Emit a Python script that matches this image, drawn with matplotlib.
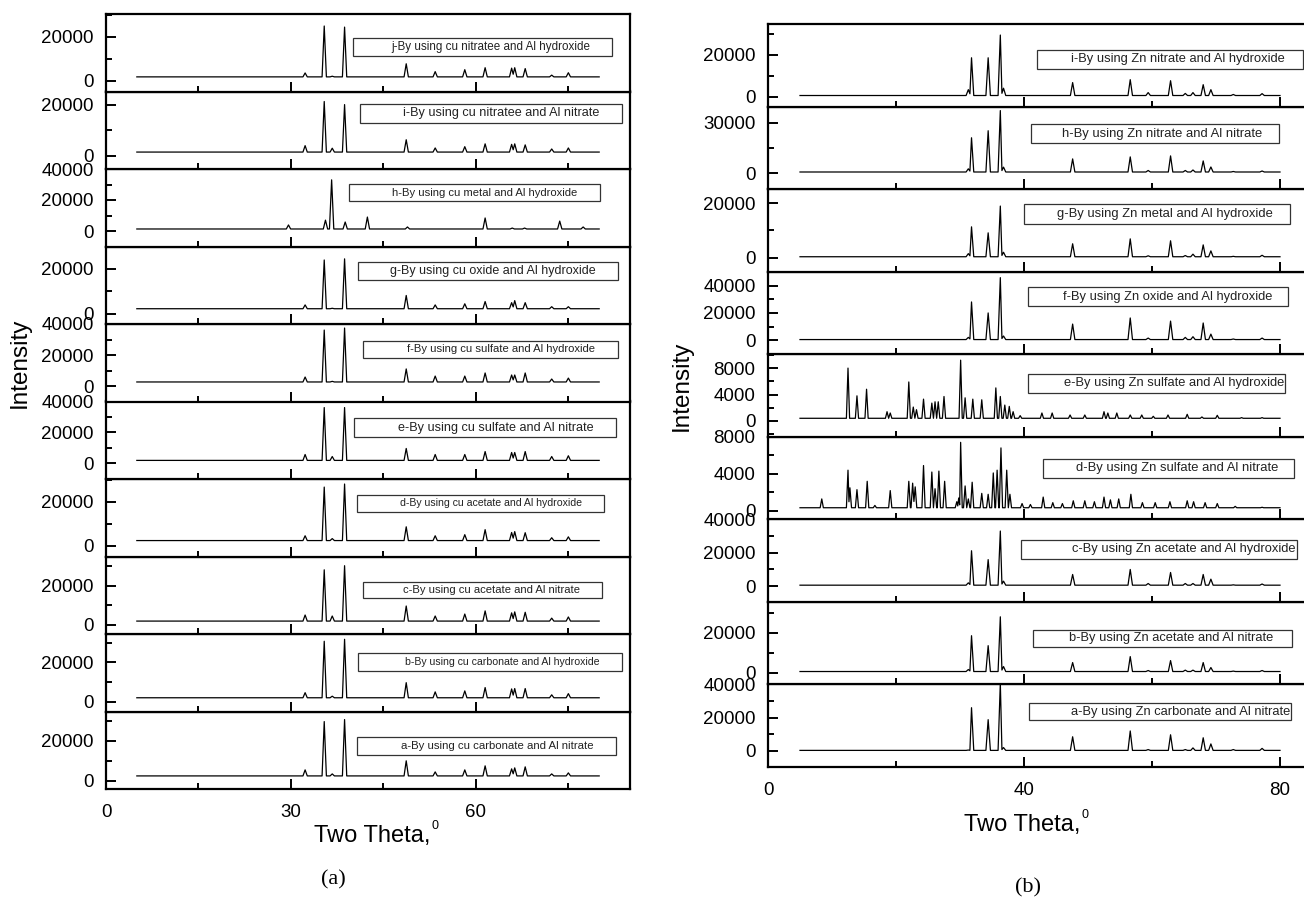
import matplotlib.pyplot as plt
from matplotlib.patches import Rectangle
from matplotlib.ticker import MultipleLocator

plt.rcParams['font.family'] = ['Liberation Sans', 'DejaVu Sans']

# ---------------- (a) Cu series, peak positions / heights
cu_pos = [32.3, 35.4, 36.7, 38.7, 48.7, 53.4, 58.2, 61.5, 65.8, 66.3, 68.0, 72.3, 75.0]
cu_a = [5500, 29500, 3500, 30500, 10000, 4500, 5500, 7500, 6000, 6500, 7000, 3500, 4000]
cu_b = [4600, 30800, 2800, 31800, 9700, 5000, 5500, 7200, 6500, 6700, 6700, 3500, 4100]
cu_c = [5100, 28200, 4600, 30300, 9700, 4600, 5600, 7200, 6200, 6700, 6500, 3500, 4100]
cu_d = [4500, 26800, 3200, 28200, 8600, 4500, 5000, 7300, 6000, 6400, 5900, 3600, 4000]
cu_e = [5800, 36100, 4500, 36100, 9700, 5800, 5800, 7700, 7100, 7100, 7700, 4500, 5000]
cu_f = [5800, 36100, 3000, 37400, 11000, 6400, 6400, 8400, 7100, 7100, 8400, 4500, 5100]
cu_g = [4000, 24000, 2500, 24500, 8200, 4000, 4500, 5500, 5000, 5900, 5000, 3200, 3200]
cu_i = [4000, 21200, 3000, 20000, 6300, 3100, 3600, 4700, 4500, 4700, 4300, 2700, 3100]
cu_j = [3500, 25000, 2000, 24500, 7700, 4100, 5000, 5900, 5700, 5900, 5500, 2500, 3600]
# cu metal sample (h) has its own set of reflections
cuh_pos = [29.6, 35.6, 36.6, 38.8, 42.4, 48.9, 61.5, 65.9, 67.9, 73.6, 77.4]
cu_h = [3900, 7000, 33000, 5800, 9000, 2600, 8400, 1900, 1900, 6400, 2600]

cu_base = [2500, 2000, 2000, 2300, 2000, 2600, 2300, 1300, 1500, 1700]
cu_ylim = [(-4000, 34500), (-5000, 34500), (-4600, 35000), (-5000, 30500), (-10000, 40000),
           (-10000, 40000), (-4500, 30000), (-10000, 40000), (-5100, 25100), (-5000, 30500)]
cu_yticks = [[0, 20000], [0, 20000], [0, 20000], [0, 20000], [0, 20000, 40000],
             [0, 20000, 40000], [0, 20000], [0, 20000, 40000], [0, 20000], [0, 20000]]
cu_labels = ['a-By using cu carbonate and Al nitrate',
             'b-By using cu carbonate and Al hydroxide',
             'c-By using cu acetate and Al nitrate',
             'd-By using cu acetate and Al hydroxide',
             'e-By using cu sulfate and Al nitrate',
             'f-By using cu sulfate and Al hydroxide',
             'g-By using cu oxide and Al hydroxide',
             'h-By using cu metal and Al hydroxide',
             'i-By using cu nitratee and Al nitrate',
             'j-By using cu nitratee and Al hydroxide']

# ---------------- (b) Zn series
zn_pos = [31.3, 31.8, 34.4, 36.3, 36.8, 47.6, 56.6, 59.4, 62.9, 65.2, 66.4, 68.0, 69.2, 72.7, 77.2]
zn_a = [500, 26000, 18800, 41000, 2000, 8500, 12000, 800, 9700, 800, 1800, 7900, 4200, 800, 1500]
zn_b = [1500, 18500, 13500, 28000, 3000, 5000, 8000, 1000, 6000, 1200, 1200, 5000, 2500, 700, 1000]
zn_c = [2000, 21200, 15900, 33000, 3000, 7000, 10000, 1600, 8200, 1600, 1600, 7000, 4200, 800, 1300]
zn_f = [2000, 28100, 20000, 46000, 3000, 11800, 16300, 1500, 14000, 2000, 2500, 12600, 4400, 800, 1500]
zn_g = [1500, 11300, 9100, 18900, 2000, 5100, 6900, 700, 6200, 800, 1300, 4700, 2500, 500, 900]
zn_h = [2500, 21000, 25200, 37200, 3500, 8400, 9600, 1500, 10200, 1500, 1800, 7200, 3600, 900, 1200]
zn_i = [3300, 18600, 18600, 29500, 4000, 6700, 8100, 1900, 7600, 1500, 1900, 5700, 3300, 1000, 1400]
# zinc sulfate samples (d, e) are multiphase
znd_pos = [8.4, 12.5, 12.8, 13.9, 15.5, 16.7, 19.1, 22.0, 22.6, 23.0, 24.3, 25.6, 26.1, 26.7,
           27.6, 29.5, 29.8, 30.1, 30.8, 31.3, 31.9, 33.4, 34.4, 35.2, 35.8, 36.4, 37.3, 37.8,
           39.7, 41.0, 43.0, 44.5, 46.0, 47.7, 49.5, 51.0, 52.5, 53.5, 54.8, 56.7, 58.5, 60.5,
           62.8, 65.5, 66.5, 68.3, 70.2, 73.0, 77.2]
zn_d = [1300, 4400, 2500, 2300, 3200, 600, 2200, 3200, 3000, 2600, 4900, 4200, 2400, 4300,
        3200, 1000, 1400, 7400, 2700, 1300, 3100, 1900, 1800, 4100, 4400, 6800, 4400, 1800,
        800, 700, 1500, 900, 800, 1100, 1100, 1000, 1500, 1200, 1300, 1800, 900, 900,
        1000, 1100, 1000, 900, 800, 500, 400]
zne_pos = [12.5, 13.9, 15.4, 18.6, 19.1, 22.0, 22.7, 23.2, 24.3, 25.6, 26.1, 26.6, 27.5, 30.1,
           30.8, 32.0, 33.4, 35.6, 36.3, 37.0, 37.7, 38.3, 39.4, 42.8, 44.4, 47.2, 49.5, 52.5,
           53.1, 54.5, 56.6, 58.4, 60.2, 62.5, 65.5, 67.8, 70.2, 74.0, 77.2]
zn_e = [8000, 3800, 4800, 1400, 1200, 5900, 2100, 1700, 3300, 2700, 2900, 2900, 3700, 9200,
        3500, 3300, 3200, 5000, 3700, 2400, 2200, 1400, 800, 1200, 1200, 900, 900, 1400,
        1200, 1200, 900, 900, 700, 900, 1000, 600, 850, 500, 500]

zn_base = [300, 500, 600, 350, 400, 400, 360, 600, 500]
zn_ylim = [(-9700, 40000), (-6000, 35500), (-9400, 40000), (-900, 8000), (-2400, 10100),
           (-10400, 50400), (-5100, 25100), (-9600, 39600), (-4800, 34800)]
zn_yticks = [[0, 20000, 40000], [0, 20000], [0, 20000, 40000], [0, 4000, 8000], [0, 4000, 8000],
             [0, 20000, 40000], [0, 20000], [0, 30000], [0, 20000]]
zn_minor = [10000, 10000, 10000, 2000, 2000, 10000, 10000, 15000, 10000]
zn_labels = ['a-By using Zn carbonate and Al nitrate',
             'b-By using Zn acetate and Al nitrate',
             'c-By using Zn acetate and Al hydroxide',
             'd-By using Zn sulfate and Al nitrate',
             'e-By using Zn sulfate and Al hydroxide',
             'f-By using Zn oxide and Al hydroxide',
             'g-By using Zn metal and Al hydroxide',
             'h-By using Zn nitrate and Al nitrate',
             'i-By using Zn nitrate and Al hydroxide']

# label boxes: x0, x1 (data), y0, y1 (axes fraction), text width px, gap to right edge
cu_box = [(40.7, 82.7, 0.439, 0.671, 194), (40.9, 83.7, 0.523, 0.755, 197),
          (41.7, 80.5, 0.465, 0.671, 179), (40.7, 80.8, 0.574, 0.794, 183),
          (40.2, 82.7, 0.542, 0.787, 197), (41.7, 83.0, 0.561, 0.781, 190),
          (40.9, 83.0, 0.568, 0.800, 207), (39.4, 80.1, 0.587, 0.806, 188),
          (41.2, 83.7, 0.594, 0.839, 197), (40.1, 82.1, 0.458, 0.690, 200)]
zn_box = [(40.8, 81.7, 0.569, 0.775, 222, 0.15), (41.4, 81.9, 0.454, 0.660, 207, 3.0),
          (39.5, 82.7, 0.520, 0.750, 226, 0.3), (43.0, 82.2, 0.502, 0.732, 203, 2.5),
          (40.6, 80.8, 0.531, 0.761, 222, 0.15), (40.6, 81.3, 0.584, 0.814, 212, 2.5),
          (40.0, 81.6, 0.578, 0.820, 217, 2.7), (41.1, 79.8, 0.558, 0.789, 202, 2.5),
          (42.0, 83.6, 0.455, 0.686, 215, 2.8)]


def trace(pos, hts, base, w, x0=5.0, x1=80.0):
    # polyline through the read peak tops, feet back on the baseline
    xs, ys = [x0], [base]
    for i, (p, h) in enumerate(zip(pos, hts)):
        if i == 0 or p - w > pos[i - 1] + w:
            xs.append(p - w)
            ys.append(base)
        xs.append(p)
        ys.append(h)
        if i + 1 < len(pos) and p + w > pos[i + 1] - w:
            xs.append((p + pos[i + 1]) / 2)
            ys.append(base + 0.3 * (min(h, hts[i + 1]) - base))
        else:
            xs.append(p + w)
            ys.append(base)
    xs.append(x1)
    ys.append(base)
    return xs, ys


W, H = 1304, 898
fig = plt.figure(figsize=(W / 100, H / 100), dpi=100)
renderer = fig.canvas.get_renderer()


def style(ax, bottom):
    for s in ax.spines.values():
        s.set_linewidth(1.6)
    ax.tick_params(which='both', direction='in', width=1.4, labelsize=13.5, pad=9)
    ax.tick_params(which='major', length=7)
    ax.tick_params(which='minor', length=4)
    ax.tick_params(axis='x', pad=11, labelbottom=bottom)


def add_box(ax, label, x0, x1, y0, y1, tw, gap):
    tr = ax.get_xaxis_transform()
    ax.add_patch(Rectangle((x0, y0), x1 - x0, y1 - y0, transform=tr, fill=False,
                           ec='#333333', lw=0.9, clip_on=False))
    t = ax.text(x1 - gap, (y0 + y1) / 2, label, transform=tr, ha='right', va='center',
                fontsize=8, color='#222222')
    bw = t.get_window_extent(renderer).width
    t.set_fontsize(8 * tw / bw)


def theta_label(xc, yc):
    # "Two Theta," with a small raised 0 after it
    t = fig.text(xc / W, 1 - yc / H, 'Two Theta,', ha='center', va='center', fontsize=17)
    bb = t.get_window_extent(renderer)
    fig.text((bb.x1 + 1) / W, (bb.y1 - 1) / H, '0', ha='left', va='center', fontsize=9)


# ---------------- left stack (a)
cu_series = [(cu_pos, cu_a), (cu_pos, cu_b), (cu_pos, cu_c), (cu_pos, cu_d), (cu_pos, cu_e),
             (cu_pos, cu_f), (cu_pos, cu_g), (cuh_pos, cu_h), (cu_pos, cu_i), (cu_pos, cu_j)]
n = len(cu_series)
ph = 77.5
for k in range(n):
    top = 14 + ph * (n - 1 - k)
    ax = fig.add_axes([106 / W, 1 - (top + ph) / H, 524 / W, ph / H])
    pos, hts = cu_series[k]
    xs, ys = trace(pos, hts, cu_base[k], 0.35)
    ax.plot(xs, ys, color='black', lw=0.9)
    ax.set_xlim(0, 85)
    ax.set_ylim(*cu_ylim[k])
    ax.set_xticks([0, 30, 60], labels=['0', '30', '60'])
    ax.xaxis.set_minor_locator(MultipleLocator(15))
    ax.set_yticks(cu_yticks[k], labels=[str(v) for v in cu_yticks[k]])
    ax.yaxis.set_minor_locator(MultipleLocator(10000))
    style(ax, k == 0)
    x0, x1, y0, y1, tw = cu_box[k]
    add_box(ax, cu_labels[k], x0, x1, y0, y1, tw, 3.6)

# ---------------- right stack (b)
zn_series = [(zn_pos, zn_a, 0.35), (zn_pos, zn_b, 0.35), (zn_pos, zn_c, 0.35),
             (znd_pos, zn_d, 0.25), (zne_pos, zn_e, 0.25), (zn_pos, zn_f, 0.35),
             (zn_pos, zn_g, 0.35), (zn_pos, zn_h, 0.35), (zn_pos, zn_i, 0.35)]
n = len(zn_series)
ph = (767 - 24) / n
for k in range(n):
    top = 24 + ph * (n - 1 - k)
    ax = fig.add_axes([768 / W, 1 - (top + ph) / H, 85 * 6.4 / W, ph / H])
    pos, hts, w = zn_series[k]
    xs, ys = trace(pos, hts, zn_base[k], w)
    ax.plot(xs, ys, color='black', lw=0.9)
    ax.set_xlim(0, 85)
    ax.set_ylim(*zn_ylim[k])
    ax.set_xticks([0, 40, 80], labels=['0', '40', '80'])
    ax.xaxis.set_minor_locator(MultipleLocator(20))
    ax.set_yticks(zn_yticks[k], labels=[str(v) for v in zn_yticks[k]])
    ax.yaxis.set_minor_locator(MultipleLocator(zn_minor[k]))
    style(ax, k == 0)
    x0, x1, y0, y1, tw, gap = zn_box[k]
    add_box(ax, zn_labels[k], x0, x1, y0, y1, tw, gap)

# axis titles and panel letters
fig.text(20 / W, 1 - 363 / H, 'Intensity', rotation=90, ha='center', va='center', fontsize=17.5)
fig.text(682 / W, 1 - 386 / H, 'Intensity', rotation=90, ha='center', va='center', fontsize=17.5)
theta_label(372, 836)
theta_label(1022, 825)
fig.text(333 / W, 1 - 880 / H, '(a)', ha='center', va='center', fontsize=16,
         family='Liberation Serif')
fig.text(1028 / W, 1 - 888 / H, '(b)', ha='center', va='center', fontsize=16,
         family='Liberation Serif')

plt.savefig('out.png', dpi=100)
